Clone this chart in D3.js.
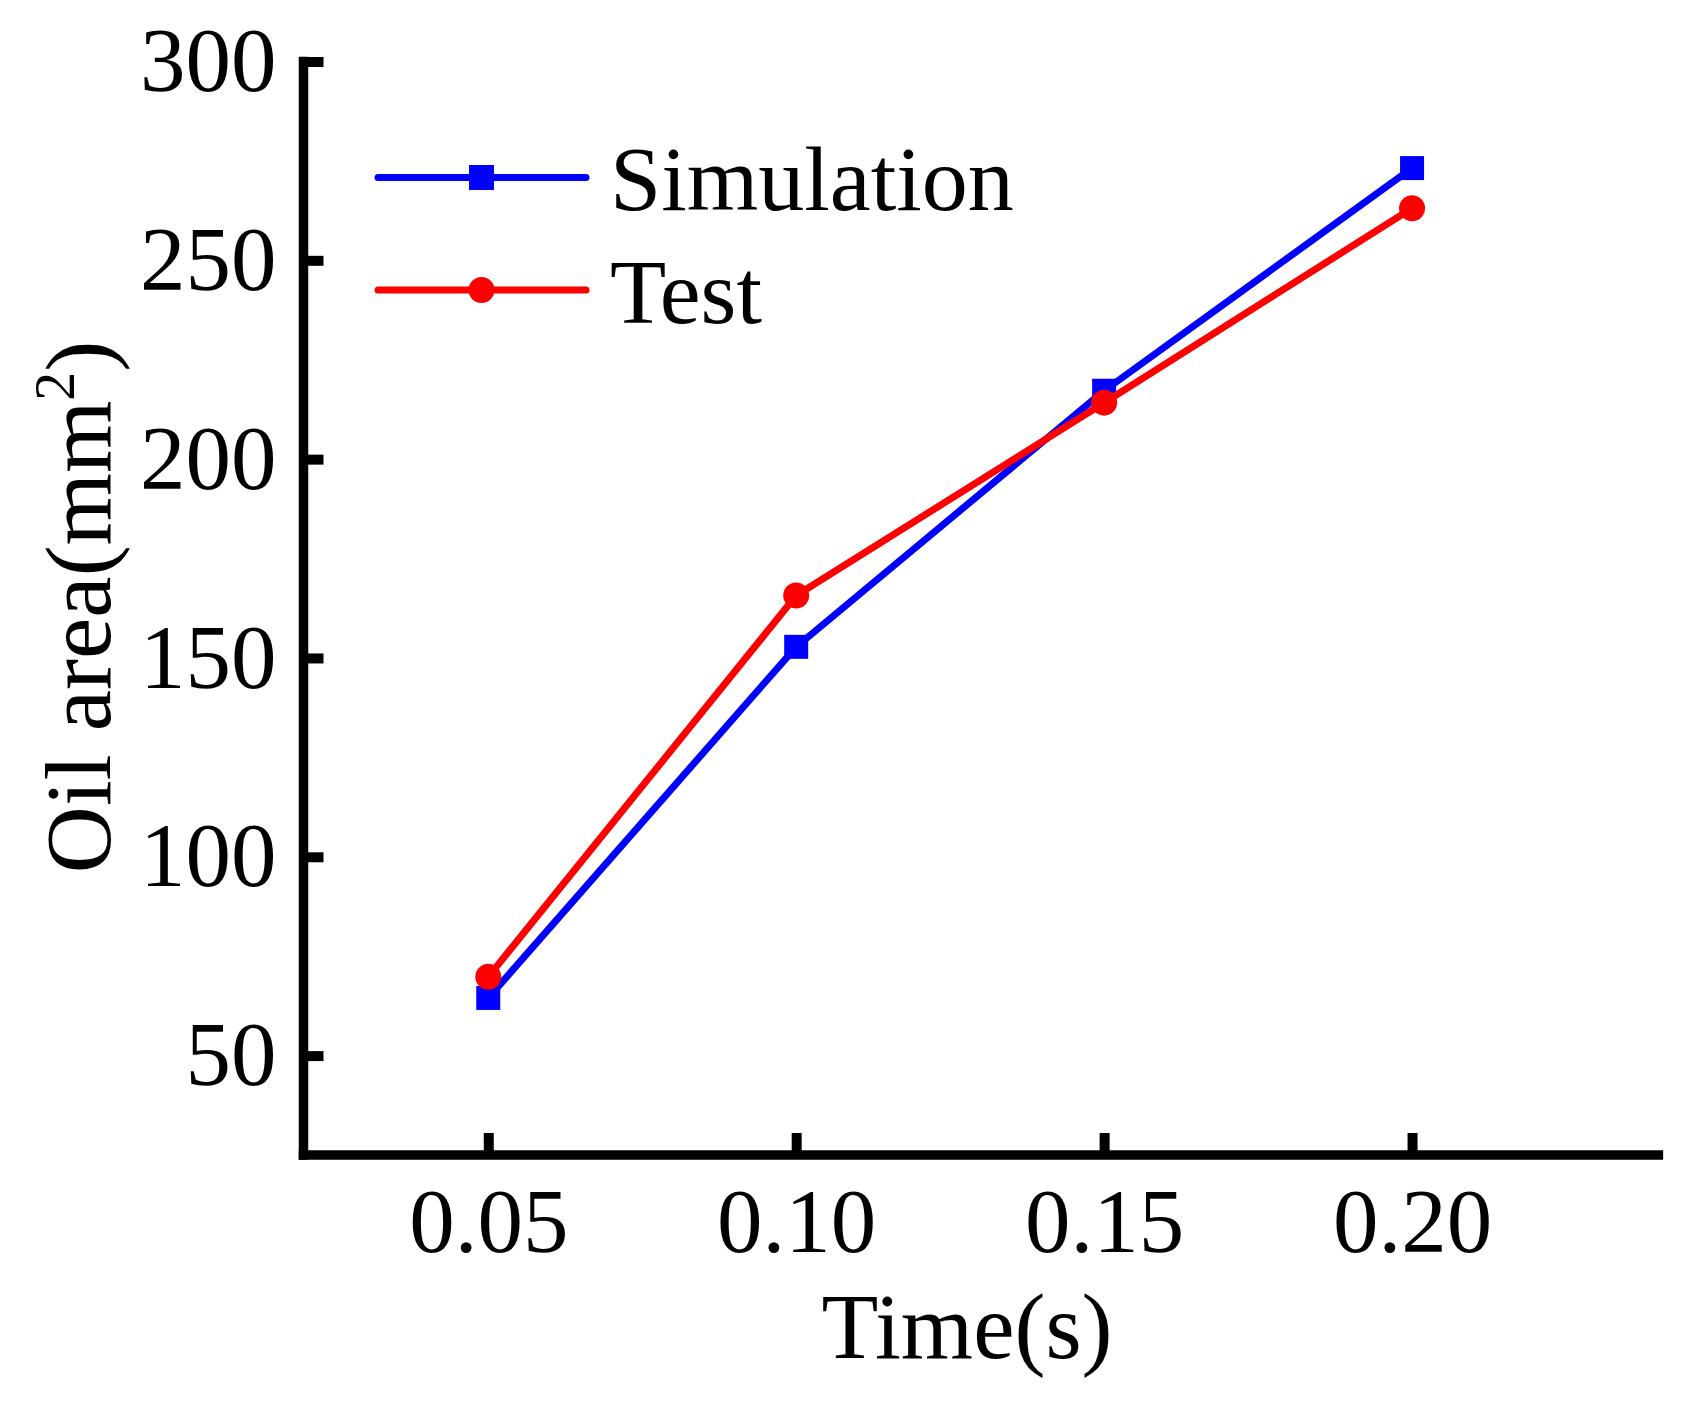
<!DOCTYPE html>
<html>
<head>
<meta charset="utf-8">
<script src="https://cdn.jsdelivr.net/npm/d3@7/dist/d3.min.js"></script>
<style>
  html, body { margin: 0; padding: 0; background: #fff; }
  svg { display: block; }
  text { font-family: "Liberation Serif", "Times New Roman", serif; fill: #000; }
</style>
</head>
<body>
<svg id="chart" width="1695" height="1408"></svg>
<script>
// ---- data ----
const times = [0.05, 0.10, 0.15, 0.20];
const simulation = [64.5, 152.8, 217.2, 273.2];
const test = [69.8, 165.7, 214.2, 263.1];
const xTicks = [0.05, 0.10, 0.15, 0.20];
const yTicks = [50, 100, 150, 200, 250, 300];
const seriesNames = ["Simulation", "Test"];
const seriesColors = ["#0000FF", "#FF0000"];
const xTitle = "Time(s)";
const yTitleMain = "Oil area(mm";

const svg = d3.select("#chart");
const x = d3.scaleLinear().domain([0.02, 0.24]).range([303.5, 1658.4]);
const y = d3.scaleLinear().domain([25, 300]).range([1155, 61.5]);

const AXW = 9.5;

// axes ticks + labels
const gx = svg.append("g").attr("transform", `translate(0,${y(25)})`)
  .call(d3.axisBottom(x).tickValues(xTicks).tickFormat(d3.format(".2f"))
    .tickSizeInner(-22).tickSizeOuter(0).tickPadding(32));
const gy = svg.append("g").attr("transform", `translate(${x(0.02)},0)`)
  .call(d3.axisLeft(y).tickValues(yTicks).tickFormat(d3.format("d"))
    .tickSizeInner(-20).tickSizeOuter(0).tickPadding(27));
[gx, gy].forEach(g => {
  g.select(".domain").remove();
  g.selectAll(".tick line").attr("stroke", "#000").attr("stroke-width", AXW + 0.5);
  g.selectAll(".tick text").attr("font-family", "Liberation Serif").attr("font-size", 91).attr("fill", "#000");
});
gy.selectAll(".tick text").attr("dy", "0.32em");

// axis lines
svg.append("line").attr("x1", x(0.02)).attr("x2", x(0.02)).attr("y1", y(25)).attr("y2", y(300))
  .attr("stroke", "#000").attr("stroke-width", AXW).attr("stroke-linecap", "square");
svg.append("line").attr("x1", x(0.02)).attr("x2", x(0.24)).attr("y1", y(25)).attr("y2", y(25))
  .attr("stroke", "#000").attr("stroke-width", AXW).attr("stroke-linecap", "square");

// series
const datasets = [simulation, test];
const line = d3.line().x(d => x(d[0])).y(d => y(d[1]));
datasets.forEach((vals, i) => {
  const pts = times.map((t, j) => [t, vals[j]]);
  const g = svg.append("g");
  g.append("path").attr("d", line(pts)).attr("fill", "none")
    .attr("stroke", seriesColors[i]).attr("stroke-width", 7)
    .attr("stroke-linejoin", "round").attr("stroke-linecap", "round");
  if (i === 0) {
    g.selectAll("rect").data(pts).enter().append("rect")
      .attr("x", d => x(d[0]) - 12).attr("y", d => y(d[1]) - 12)
      .attr("width", 24).attr("height", 24).attr("fill", seriesColors[i]);
  } else {
    g.selectAll("circle").data(pts).enter().append("circle")
      .attr("cx", d => x(d[0])).attr("cy", d => y(d[1])).attr("r", 13)
      .attr("fill", seriesColors[i]);
  }
});

// legend
const legY = [177.5, 290];
seriesNames.forEach((name, i) => {
  const g = svg.append("g");
  g.append("line").attr("x1", 378).attr("x2", 586).attr("y1", legY[i]).attr("y2", legY[i])
    .attr("stroke", seriesColors[i]).attr("stroke-width", 7).attr("stroke-linecap", "round");
  if (i === 0) {
    g.append("rect").attr("x", 469).attr("y", legY[i] - 12.5).attr("width", 25).attr("height", 25)
      .attr("fill", seriesColors[i]);
  } else {
    g.append("circle").attr("cx", 481.5).attr("cy", legY[i]).attr("r", 13).attr("fill", seriesColors[i]);
  }
  g.append("text").attr("x", 610).attr("y", legY[i] + 32.5).attr("font-size", 92).text(name);
});

// axis titles
svg.append("text").attr("x", 967).attr("y", 1358).attr("text-anchor", "middle")
  .attr("font-size", 93).text(xTitle);
const yt = svg.append("text").attr("transform", "translate(110,607) rotate(-90)")
  .attr("text-anchor", "middle").attr("font-size", 93);
yt.append("tspan").text(yTitleMain);
yt.append("tspan").attr("font-size", 58).attr("dy", -36).text("2");
yt.append("tspan").attr("dy", 36).text(")");
</script>
</body>
</html>
